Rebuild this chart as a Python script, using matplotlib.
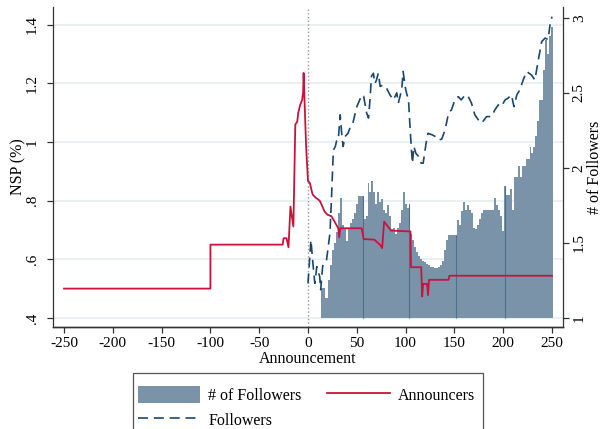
import matplotlib
matplotlib.use("Agg")
import matplotlib.pyplot as plt
from matplotlib.patches import Rectangle
import numpy as np

plt.rcParams['font.family'] = ['Liberation Serif', 'DejaVu Serif']

# Announcers NSP (%)
ann_days = [-250, -100, -100, -26, -25, -22, -20, -18, -15, -13, -11, -10, -8, -6, -5,
            -4.5, -2, 0, 1, 2, 4, 5, 8, 10, 12, 14, 17, 20, 24, 27, 31, 32, 33, 55, 57,
            68, 74, 76, 78, 80, 85, 105, 105.5, 116, 117, 118, 122, 123, 124, 144, 145, 250]
ann_nsp = [0.5, 0.5, 0.65, 0.65, 0.672, 0.672, 0.641, 0.78, 0.712, 1.06, 1.07, 1.10, 1.127,
           1.144, 1.17, 1.236, 0.99, 0.866, 0.864, 0.86, 0.83, 0.82, 0.81, 0.805, 0.80,
           0.786, 0.763, 0.752, 0.747, 0.73, 0.706, 0.675, 0.706, 0.706, 0.669, 0.667,
           0.649, 0.638, 0.729, 0.72, 0.698, 0.695, 0.573, 0.573, 0.473, 0.516, 0.516,
           0.478, 0.53, 0.53, 0.544, 0.544]

# Followers NSP (%)
fol_days = [0, 3, 5, 7, 9, 12, 13, 15, 16, 19, 22.5, 24, 26, 28, 29.5, 31, 33, 34.5, 36, 38,
            41, 43, 46, 50, 53, 55, 57, 60, 62, 63.5, 65, 67, 68.5, 70, 72, 74, 77, 80.5, 84,
            87.5, 91, 92.5, 96, 97.5, 99.5, 101, 103, 104.5, 106, 107, 108.5, 110.5, 113,
            116, 118, 121, 123, 127, 130, 133.5, 137, 140.5, 144, 147, 150.5, 154, 157,
            161, 164, 167.5, 171, 174.5, 178, 183, 188, 191.5, 195, 198, 202, 205, 208.5,
            211, 214, 217, 220.5, 224, 229, 232.5, 236, 239.5, 243, 246, 248, 250]
fol_nsp = [0.518, 0.666, 0.587, 0.518, 0.575, 0.541, 0.496, 0.575, 0.588, 0.598, 0.689,
           0.803, 0.973, 0.985, 1.007, 1.007, 1.093, 1.031, 0.985, 1.019, 1.030, 1.048,
           1.065, 1.121, 1.144, 1.161, 1.157, 1.10, 1.082, 1.144, 1.224, 1.235, 1.20, 1.21,
           1.235, 1.19, 1.195, 1.184, 1.161, 1.144, 1.168, 1.133, 1.178, 1.241, 1.19,
           1.167, 1.144, 1.053, 0.973, 0.928, 0.985, 0.962, 0.952, 0.928, 0.928, 0.996,
           1.030, 1.025, 1.02, 1.007, 1.01, 1.042, 1.099, 1.11, 1.144, 1.155, 1.144,
           1.161, 1.157, 1.133, 1.093, 1.076, 1.065, 1.087, 1.087, 1.11, 1.127, 1.121,
           1.144, 1.15, 1.161, 1.121, 1.161, 1.178, 1.212, 1.241, 1.229, 1.212, 1.28,
           1.343, 1.355, 1.35, 1.40, 1.428]

# Number of followers (bars, every 2 days from 14 to 250)
bar_days = list(range(14, 251, 2))
bar_count = [1.20, 1.20, 1.13, 1.13, 1.25, 1.35, 1.45, 1.50, 1.57, 1.70, 1.80, 1.62, 1.59,
             1.51, 1.59, 1.63, 1.66, 1.70, 1.76, 1.81, 1.81, 1.81, 1.66, 1.68, 1.90, 1.84,
             1.91, 1.84, 1.76, 1.84, 1.77, 1.79, 1.72, 1.70, 1.75, 1.68, 1.59, 1.60, 1.56,
             1.60, 1.63, 1.72, 1.84, 1.76, 1.73, 1.76, 1.56, 1.52, 1.47, 1.44, 1.41, 1.39,
             1.38, 1.37, 1.36, 1.35, 1.34, 1.34, 1.33, 1.33, 1.34, 1.35, 1.38, 1.45, 1.52,
             1.55, 1.55, 1.55, 1.55, 1.55, 1.65, 1.62, 1.71, 1.77, 1.72, 1.75, 1.72,
             1.70, 1.60, 1.59, 1.62, 1.66, 1.70, 1.72, 1.72, 1.72, 1.72, 1.72, 1.72, 1.80,
             1.75, 1.72, 1.68, 1.58, 1.88, 1.82, 1.82, 1.86, 1.72, 1.94, 1.94, 2.01, 1.94,
             2.01, 2.01, 2.06, 2.06, 2.14, 2.10, 2.14, 2.21, 2.31, 2.45, 2.45, 2.65, 2.85,
             2.76, 2.88, 2.94]
outline_days = [56, 104, 152, 202]

left_ticks = [0.4, 0.6, 0.8, 1.0, 1.2, 1.4]
left_labels = ['.4', '.6', '.8', '1', '1.2', '1.4']
right_ticks = [1, 1.5, 2, 2.5, 3]
right_labels = ['1', '1.5', '2', '2.5', '3']
x_ticks = list(range(-250, 251, 50))

bar_color = '#7b93a9'
red = '#c8143c'
navy = '#1a476f'
spine_c = '#333333'

fig = plt.figure(figsize=(6.04, 4.29), dpi=100)
pos = [53 / 604, 1 - 327 / 429, 510 / 604, 320 / 429]
ax = fig.add_axes(pos)
ax2 = ax.twinx()
ax3 = ax.twinx()

ax.set_xlim(-261.3, 261.3)
ax.set_ylim(0.369, 1.461)
ax3.set_ylim(0.369, 1.461)
ax2.set_ylim(0.94, 3.073)

# grid on the bottom axes
for t in left_ticks:
    ax.axhline(t, color='#e6eff1', lw=1.3, zorder=0)

# bars on the right scale
heights = np.array(bar_count) - 1
bars = ax2.bar(bar_days, heights, bottom=1, width=2.0, color=bar_color,
               linewidth=0, label='# of Followers')
lookup = dict(zip(bar_days, bar_count))
ax2.vlines(outline_days, 1, [lookup[d] for d in outline_days], color='#4f6f8c', lw=0.8)

# lines on the top axes
ax3.axvline(0, color='#9a9a9a', ls=':', lw=1.0, zorder=1)
l_ann, = ax3.plot(ann_days, ann_nsp, color=red, lw=1.3, label='Announcers')
l_fol, = ax3.plot(fol_days, fol_nsp, color=navy, lw=1.2, ls=(0, (6, 3.5)), label='Followers')

# axes styling
ax.set_xticks(x_ticks)
ax.set_xticklabels([str(v) for v in x_ticks])
ax.set_yticks(left_ticks)
ax.set_yticklabels(left_labels, rotation=90, va='center')
ax2.set_yticks(right_ticks)
ax2.set_yticklabels(right_labels, rotation=90, va='center')
ax3.set_yticks([])
ax3.yaxis.set_visible(False)

for a in (ax, ax2, ax3):
    a.spines['top'].set_visible(False)
    for s in a.spines.values():
        s.set_color(spine_c)
        s.set_linewidth(0.9)
ax3.spines['left'].set_visible(False)
ax3.spines['right'].set_visible(False)
ax2.spines['left'].set_visible(False)
ax.spines['right'].set_visible(False)

ax.tick_params(axis='x', direction='out', length=4, width=0.9, color=spine_c,
               labelsize=11, pad=3)
ax.tick_params(axis='y', direction='out', length=4, width=0.9, color=spine_c,
               labelsize=11, pad=6)
ax2.tick_params(axis='y', direction='out', length=4, width=0.9, color=spine_c,
                labelsize=11, pad=3)

ax.set_xlabel('Announcement', fontsize=11.5, labelpad=1)
ax.set_ylabel('NSP (%)', fontsize=11.5, labelpad=0)
ax2.set_ylabel('# of Followers', fontsize=11.5, labelpad=1)

# legend
fig.legend(handles=[bars, l_fol, l_ann], labels=['# of Followers', 'Followers', 'Announcers'],
           ncol=2, loc='upper left', bbox_to_anchor=(138 / 604, 1 - 386 / 429),
           frameon=False, fontsize=11.5, borderpad=0, borderaxespad=0,
           handlelength=3.9, handleheight=1.3, handletextpad=0.5, columnspacing=1.6,
           labelspacing=0.45)
fig.patches.append(Rectangle((133 / 604, 1 - 445 / 429), 350 / 604, 72 / 429,
                             transform=fig.transFigure, fill=False,
                             edgecolor='#555555', lw=0.9))

fig.savefig('out.png', dpi=100)
